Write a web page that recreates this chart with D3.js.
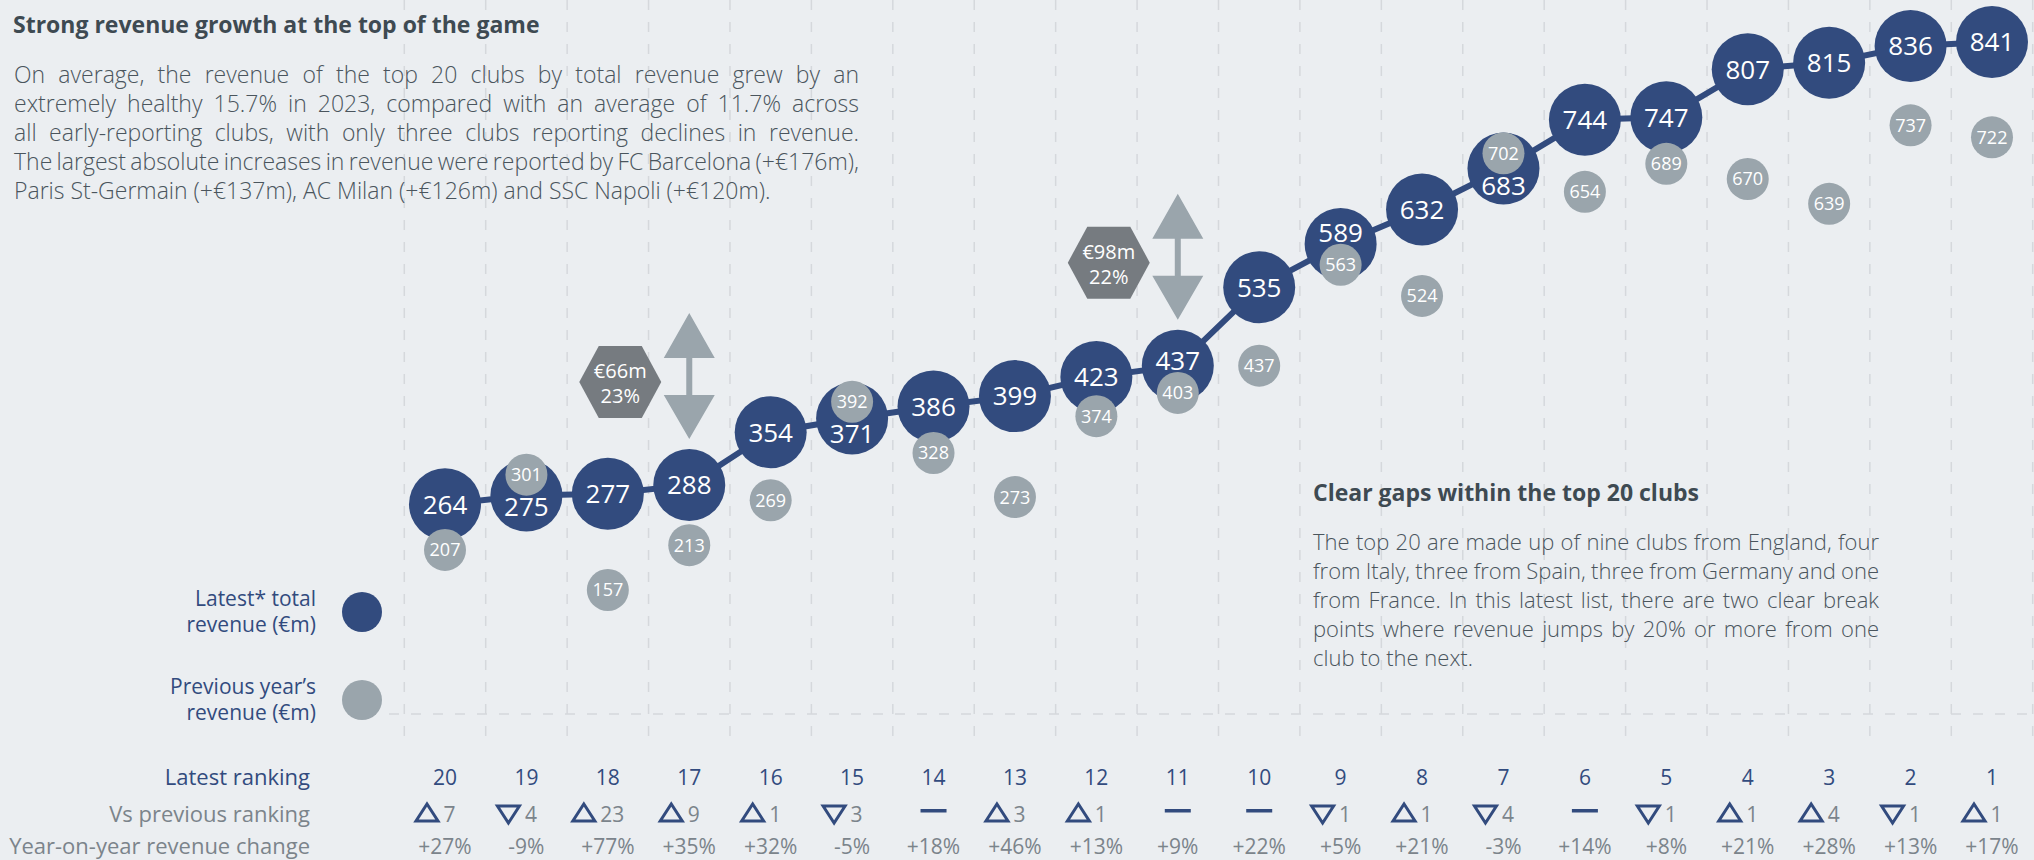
<!DOCTYPE html>
<html>
<head>
<meta charset="utf-8">
<script src="https://cdn.jsdelivr.net/npm/d3@7"></script>
<style>
html, body { margin: 0; padding: 0; background: #ebeef1; }
svg { display: block; }
text { font-family: "Open Sans", Roboto, sans-serif; }
</style>
</head>
<body>
<div class="chart"></div>
<script>
// ranks left to right, latest and previous revenue (EUR m)
var ranks = [20, 19, 18, 17, 16, 15, 14, 13, 12, 11, 10, 9, 8, 7, 6, 5, 4, 3, 2, 1];
var latest = [264, 275, 277, 288, 354, 371, 386, 399, 423, 437, 535, 589, 632, 683, 744, 747, 807, 815, 836, 841];
var previous = [207, 301, 157, 213, 269, 392, 328, 273, 374, 403, 437, 563, 524, 702, 654, 689, 670, 639, 737, 722];
var rankChange = [7, -4, 23, 9, 1, -3, 0, 3, 1, 0, 0, -1, 1, -4, 0, -1, 1, 4, -1, 1];
var yoyChange = ["+27%", "-9%", "+77%", "+35%", "+32%", "-5%", "+18%", "+46%", "+13%", "+9%",
                 "+22%", "+5%", "+21%", "-3%", "+14%", "+8%", "+21%", "+28%", "+13%", "+17%"];

var titleText = "Strong revenue growth at the top of the game";
var introLines = [
    "On average, the revenue of the top 20 clubs by total revenue grew by an",
    "extremely healthy 15.7% in 2023, compared with an average of 11.7% across",
    "all early-reporting clubs, with only three clubs reporting declines in revenue.",
    "The largest absolute increases in revenue were reported by FC Barcelona (+\u20ac176m),",
    "Paris St-Germain (+\u20ac137m), AC Milan (+\u20ac126m) and SSC Napoli (+\u20ac120m)."
];
var gapTitle = "Clear gaps within the top 20 clubs";
var gapLines = [
    "The top 20 are made up of nine clubs from England, four",
    "from Italy, three from Spain, three from Germany and one",
    "from France. In this latest list, there are two clear break",
    "points where revenue jumps by 20% or more from one",
    "club to the next."
];
var legendLabels = [["Latest* total", "revenue (\u20acm)"], ["Previous year\u2019s", "revenue (\u20acm)"]];
var rowLabels = ["Latest ranking", "Vs previous ranking", "Year-on-year revenue change"];

var width = 2034;
var height = 860;
var navy = "#324b7e";
var greyDot = "#9aa5ac";
var hexGrey = "#767b80";
var rowGrey = "#7b848b";
var gridColor = "#d5d8dc";
var bigR = 36;
var smallR = 21;

var svg = d3.select(".chart")
    .append("svg")
    .attr("width", width)
    .attr("height", height);

//////// scales
var x = d3.scalePoint().domain(ranks).range([445, 1992]);
var y = d3.scaleLinear().domain([157, 841]).range([590, 42]);
var step = x.step();

//////// grid
var gridX = d3.range(ranks.length + 1).map(function(i) { return x(ranks[0]) - step / 2 + i * step; });
svg.append("g").selectAll("line")
    .data(gridX)
    .enter().append("line")
    .attr("x1", function(d) { return d; })
    .attr("x2", function(d) { return d; })
    .attr("y1", 0)
    .attr("y2", 737)
    .attr("stroke", gridColor)
    .attr("stroke-width", 1.5)
    .attr("stroke-dasharray", "10,12");

svg.append("line")
    .attr("x1", 389).attr("x2", width)
    .attr("y1", 714).attr("y2", 714)
    .attr("stroke", gridColor)
    .attr("stroke-width", 1.5)
    .attr("stroke-dasharray", "10,12");

//////// text blocks
function justify(sel, w) {
    sel.each(function() {
        var t = d3.select(this);
        var natural = this.getComputedTextLength();
        var gaps = t.text().split(" ").length - 1;
        if (gaps > 0) t.style("word-spacing", ((w - natural) / gaps) + "px");
    });
}

svg.append("text")
    .attr("x", 13).attr("y", 33)
    .attr("font-size", "23px")
    .attr("font-weight", "bold")
    .attr("fill", "#3e4a52")
    .text(titleText);

var intro = svg.append("g").selectAll("text")
    .data(introLines)
    .enter().append("text")
    .attr("x", 14)
    .attr("y", function(d, i) { return 83 + i * 29; })
    .attr("font-size", "23px")
    .attr("font-weight", 300)
    .attr("fill", "#4a555d")
    .text(function(d) { return d; });
justify(intro.filter(function(d, i) { return i < introLines.length - 1; }), 845);

svg.append("text")
    .attr("x", 1313).attr("y", 501)
    .attr("font-size", "23px")
    .attr("font-weight", "bold")
    .attr("fill", "#3e4a52")
    .text(gapTitle);

var gapText = svg.append("g").selectAll("text")
    .data(gapLines)
    .enter().append("text")
    .attr("x", 1313)
    .attr("y", function(d, i) { return 550 + i * 29; })
    .attr("font-size", "22px")
    .attr("font-weight", 300)
    .attr("fill", "#4a555d")
    .text(function(d) { return d; });
justify(gapText.filter(function(d, i) { return i < gapLines.length - 1; }), 566);

//////// legend
var legendColors = [navy, greyDot];
var legendY = [612, 700];
legendLabels.forEach(function(lines, k) {
    svg.append("circle")
        .attr("cx", 362).attr("cy", legendY[k]).attr("r", 20)
        .attr("fill", legendColors[k]);
    lines.forEach(function(s, i) {
        svg.append("text")
            .attr("x", 316)
            .attr("y", legendY[k] - 6 + i * 26)
            .attr("text-anchor", "end")
            .attr("font-size", "21px")
            .attr("fill", navy)
            .text(s);
    });
});

//////// jump annotations (revenue jumps of 20% or more)
var jumps = [];
latest.forEach(function(v, i) {
    if (i > 0 && v / latest[i - 1] - 1 >= 0.2) {
        jumps.push({ rank: ranks[i - 1], base: latest[i - 1], diff: v - latest[i - 1], pct: Math.round((v / latest[i - 1] - 1) * 100) });
    }
});

jumps.forEach(function(j) {
    var ax = x(j.rank);
    var tip = y(j.base) - bigR - 10;
    var top = tip - 126;
    var arrow = "M " + ax + " " + top +
        " L " + (ax + 25.5) + " " + (top + 45) +
        " L " + (ax + 3) + " " + (top + 45) +
        " L " + (ax + 3) + " " + (top + 82) +
        " L " + (ax + 25.5) + " " + (top + 82) +
        " L " + ax + " " + tip +
        " L " + (ax - 25.5) + " " + (top + 82) +
        " L " + (ax - 3) + " " + (top + 82) +
        " L " + (ax - 3) + " " + (top + 45) +
        " L " + (ax - 25.5) + " " + (top + 45) + " Z";
    svg.append("path").attr("d", arrow).attr("fill", greyDot);

    var hx = ax - 69;
    var hy = (top + tip) / 2 + 6;
    var hex = [[hx - 41, hy], [hx - 21.5, hy - 36], [hx + 21.5, hy - 36], [hx + 41, hy], [hx + 21.5, hy + 36], [hx - 21.5, hy + 36]];
    svg.append("polygon")
        .attr("points", hex.map(function(p) { return p.join(","); }).join(" "))
        .attr("fill", hexGrey);
    svg.append("text")
        .attr("x", hx).attr("y", hy - 4)
        .attr("text-anchor", "middle")
        .attr("font-size", "20px")
        .attr("fill", "#fff")
        .text("\u20ac" + j.diff + "m");
    svg.append("text")
        .attr("x", hx).attr("y", hy + 21)
        .attr("text-anchor", "middle")
        .attr("font-size", "20px")
        .attr("fill", "#fff")
        .text(j.pct + "%");
});

//////// revenue line and dots
var clubs = ranks.map(function(r, i) {
    return { rank: r, latest: latest[i], previous: previous[i], change: rankChange[i], yoy: yoyChange[i] };
});

var line = d3.line()
    .x(function(d) { return x(d.rank); })
    .y(function(d) { return y(d.latest); });

svg.append("path")
    .datum(clubs)
    .attr("d", line)
    .attr("fill", "none")
    .attr("stroke", navy)
    .attr("stroke-width", 6);

svg.append("g").selectAll("circle")
    .data(clubs)
    .enter().append("circle")
    .attr("cx", function(d) { return x(d.rank); })
    .attr("cy", function(d) { return y(d.latest); })
    .attr("r", bigR)
    .attr("fill", navy);

svg.append("g").selectAll("circle")
    .data(clubs)
    .enter().append("circle")
    .attr("cx", function(d) { return x(d.rank); })
    .attr("cy", function(d) { return y(d.previous); })
    .attr("r", smallR)
    .attr("fill", greyDot);

// navy label moves clear of a grey dot that sits on its circle
function labelY(d) {
    var yn = y(d.latest);
    var yg = y(d.previous);
    var gap = yn - yg;
    if (gap > 0 && gap < 45) return Math.max(yn, yg + smallR + 11);
    if (gap <= 0 && gap > -45) return Math.min(yn, yg - smallR - 11);
    return yn;
}

svg.append("g").selectAll("text")
    .data(clubs)
    .enter().append("text")
    .attr("x", function(d) { return x(d.rank); })
    .attr("y", labelY)
    .attr("dy", "0.36em")
    .attr("text-anchor", "middle")
    .attr("font-size", "26px")
    .attr("fill", "#fff")
    .text(function(d) { return d.latest; });

svg.append("g").selectAll("text")
    .data(clubs)
    .enter().append("text")
    .attr("x", function(d) { return x(d.rank); })
    .attr("y", function(d) { return y(d.previous); })
    .attr("dy", "0.36em")
    .attr("text-anchor", "middle")
    .attr("font-size", "18px")
    .attr("fill", "#fff")
    .text(function(d) { return d.previous; });

//////// bottom rows
var rowY = [785, 822, 854];
rowLabels.forEach(function(s, i) {
    svg.append("text")
        .attr("x", 310).attr("y", rowY[i])
        .attr("text-anchor", "end")
        .attr("font-size", "22px")
        .attr("fill", i === 0 ? navy : rowGrey)
        .text(s);
});

svg.append("g").selectAll("text")
    .data(clubs)
    .enter().append("text")
    .attr("x", function(d) { return x(d.rank); })
    .attr("y", rowY[0])
    .attr("text-anchor", "middle")
    .attr("font-size", "21px")
    .attr("fill", navy)
    .text(function(d) { return d.rank; });

svg.append("g").selectAll("text")
    .data(clubs)
    .enter().append("text")
    .attr("x", function(d) { return x(d.rank); })
    .attr("y", rowY[2])
    .attr("text-anchor", "middle")
    .attr("font-size", "21px")
    .attr("fill", rowGrey)
    .text(function(d) { return d.yoy; });

var changeRow = svg.append("g");
clubs.forEach(function(d) {
    var cx = x(d.rank);
    if (d.change === 0) {
        changeRow.append("rect")
            .attr("x", cx - 13).attr("y", 809)
            .attr("width", 26).attr("height", 3.5)
            .attr("fill", navy);
        return;
    }
    var num = changeRow.append("text")
        .attr("y", rowY[1])
        .attr("font-size", "21px")
        .attr("fill", rowGrey)
        .text(Math.abs(d.change));
    var tw = num.node().getComputedTextLength();
    var start = cx - 10 - (25 + 4 + tw) / 2;
    num.attr("x", start + 29);
    var tri = d.change > 0
        ? [[start + 1.5, 821], [start + 23.5, 821], [start + 12.5, 804]]
        : [[start + 1.5, 806], [start + 23.5, 806], [start + 12.5, 823]];
    changeRow.append("polygon")
        .attr("points", tri.map(function(p) { return p.join(","); }).join(" "))
        .attr("fill", "none")
        .attr("stroke", navy)
        .attr("stroke-width", 3)
        .attr("stroke-linejoin", "miter");
});
</script>
</body>
</html>
